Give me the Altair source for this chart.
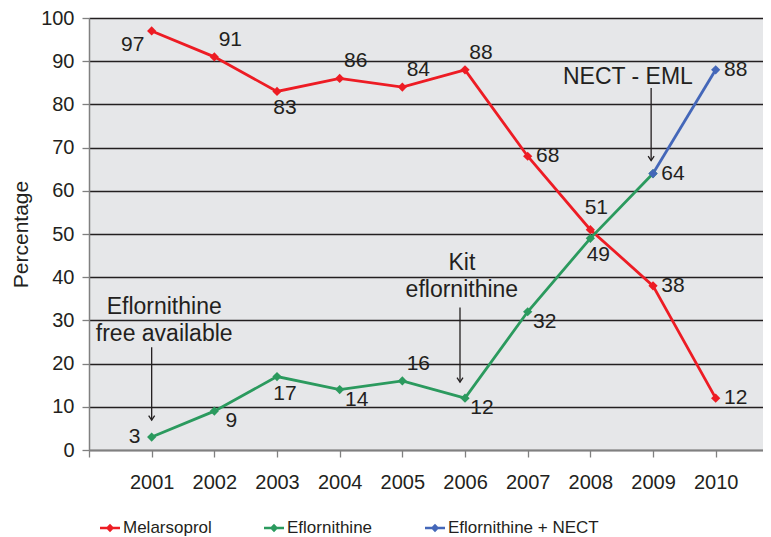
import altair as alt
import pandas as pd

# ---- data ----
years = list(range(2001, 2011))
melarsoprol = [97, 91, 83, 86, 84, 88, 68, 51, 38, 12]
eflornithine_years = list(range(2001, 2010))
eflornithine = [3, 9, 17, 14, 16, 12, 32, 49, 64]
nect_years = [2009, 2010]
nect = [64, 88]
series_names = ["Melarsoprol", "Eflornithine", "Eflornithine + NECT"]
series_colors = ["#ed1c24", "#2b9a5e", "#4467b9"]

# label placement codes (style), "" = no label
mel_place = ["BL", "AR", "B", "AR", "AR", "AR", "R", "A", "R", "R"]
efl_place = ["L", "BR", "B", "BR", "AR", "BR", "BR", "B", "R"]
nect_place = ["", "R"]
placements = {"R": (20, 0), "L": (-17, 0), "AR": (16, -17), "BR": (17, 10),
              "B": (8, 17), "A": (6, -22), "BL": (-19, 14)}

# annotations
ann_text = ["Eflornithine\nfree available", "Kit\neflornithine", "NECT - EML"]
ann_x = [2001.2, 2005.95, 2008.6]
ann_y = [33.0, 43.4, 86.4]
arrow_x = [2001, 2005.92, 2008.97]
arrow_top = [23.8, 33.0, 83.8]
arrow_tip = [6.9, 15.7, 67.0]

rows = []
for s, yrs, vals, pl in [(series_names[0], years, melarsoprol, mel_place),
                         (series_names[1], eflornithine_years, eflornithine, efl_place),
                         (series_names[2], nect_years, nect, nect_place)]:
    for y, v, p in zip(yrs, vals, pl):
        rows.append({"series": s, "year": y, "value": v, "place": p})
df = pd.DataFrame(rows)
ann = pd.DataFrame({"text": ann_text, "ax": ann_x, "ay": ann_y})
arr = pd.DataFrame({"ax": arrow_x, "top": arrow_top, "tip": arrow_tip})

FONT = "Liberation Sans"
TXT = "#231f20"

x_scale = alt.Scale(domain=[2000, 2010.755], nice=False, zero=False)
y_scale = alt.Scale(domain=[0, 100], nice=False)
x_axis = alt.Axis(values=list(range(2000, 2011)), format="d",
                  labelExpr="datum.value == 2000 ? '' : datum.label",
                  grid=False, tickSize=7, labelPadding=15, title=None,
                  domainColor="#808080", tickColor="#808080", domainWidth=1.5,
                  tickWidth=1.3, zindex=1, labelFontSize=20, labelFont=FONT,
                  labelColor=TXT, labelFlush=False)
y_axis = alt.Axis(values=list(range(0, 101, 10)), gridColor="#231f20", gridWidth=1.5,
                  tickSize=7, tickColor="#808080", tickWidth=1.3, domainColor="#808080",
                  domainWidth=1.5, labelPadding=8, labelFontSize=20, labelFont=FONT,
                  labelColor=TXT, title="Percentage", titleFont=FONT, titleFontSize=21,
                  titleFontWeight="normal", titleColor=TXT, titlePadding=9)


def X(f):
    return alt.X(f, scale=x_scale, axis=x_axis)


def Y(f):
    return alt.Y(f, scale=y_scale, axis=y_axis)


legend_symbol = "M-1,-0.13L1,-0.13L1,0.13L-1,0.13Z M0,-0.42L0.42,0L0,0.42L-0.42,0Z"

lines = alt.Chart(df).mark_line(
    strokeWidth=2.8,
    point=alt.OverlayMarkDef(shape="diamond", filled=True, size=85),
).encode(
    x=X("year:Q"), y=Y("value:Q"),
    color=alt.Color("series:N", scale=alt.Scale(domain=series_names, range=series_colors),
                    legend=alt.Legend(title=None, orient="none", legendX=11, legendY=500,
                                      direction="horizontal", symbolType=legend_symbol,
                                      symbolSize=400, symbolStrokeWidth=0,
                                      labelFontSize=17, labelFont=FONT, labelColor=TXT,
                                      labelOffset=3, columnPadding=52)),
    order=alt.Order("year:Q"),
)

layers = [lines]
lab = df[df["place"] != ""]
for key, (dx, dy) in placements.items():
    layers.append(
        alt.Chart(lab).transform_filter(alt.datum.place == key)
        .mark_text(dx=dx, dy=dy, fontSize=21, font=FONT, color=TXT)
        .encode(x=X("year:Q"), y=Y("value:Q"), text="value:Q")
    )

layers.append(
    alt.Chart(ann).mark_text(fontSize=23, font=FONT, color=TXT, lineBreak="\n",
                             lineHeight=27, baseline="middle")
    .encode(x=X("ax:Q"), y=Y("ay:Q"), text="text:N")
)
layers.append(
    alt.Chart(arr).mark_rule(color=TXT, strokeWidth=1.3)
    .encode(x=X("ax:Q"), y=Y("top:Q"), y2=alt.Y2("tip:Q"))
)
layers.append(
    alt.Chart(arr).mark_point(shape="M-1,-1.5L0,0L1,-1.5", filled=False, size=36,
                              color=TXT, strokeWidth=1.3, opacity=1)
    .encode(x=X("ax:Q"), y=Y("tip:Q"))
)

chart = alt.layer(*layers).properties(
    width=674, height=432,
    autosize=alt.AutoSizeParams(type="none"),
    padding={"left": 81, "top": 10, "right": 0, "bottom": 87},
    background="white",
).configure_view(stroke=None, fill="#e6e7e9")

chart.save("out.html", embed_options={"renderer": "svg", "actions": False})
